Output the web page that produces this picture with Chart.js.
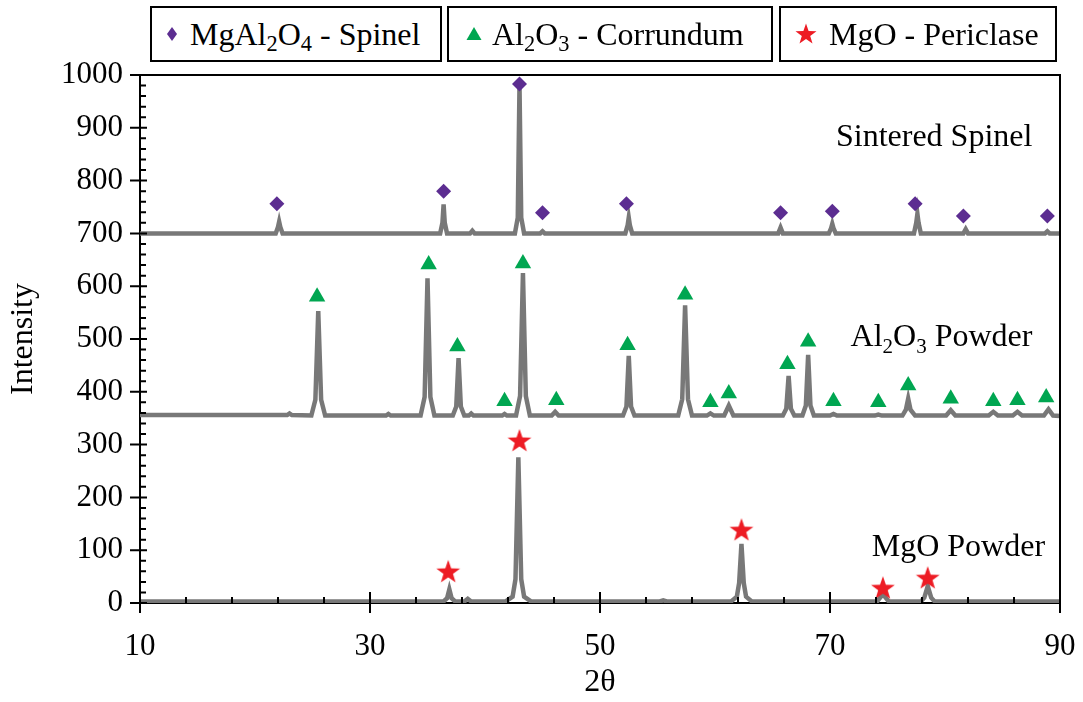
<!DOCTYPE html>
<html>
<head>
<meta charset="utf-8">
<script src="https://cdn.jsdelivr.net/npm/chart.js@4.4.1/dist/chart.umd.min.js"></script>
<style>
  body { margin: 0; background: #fff; }
  #wrap { position: relative; width: 1083px; height: 702px; }
  .key { position: absolute; top: 6px; height: 56px; border: 2px solid #000; box-sizing: border-box;
         display: flex; align-items: center; font-family: "Liberation Serif", serif; font-size: 32px;
         color: #000; white-space: nowrap; background: #fff; }
  .key sub { font-size: 0.7em; vertical-align: -0.25em; line-height: 0; }
</style>
</head>
<body>
<div id="wrap">
  <canvas id="xrdChart"></canvas>
  <div class="key" style="left:150px; width:292px; padding-left:14px;">
    <svg width="12" height="16" style="margin-right:12px"><polygon points="6,1 11,8 6,15 1,8" fill="#5C2D91"/></svg>
    <span>MgAl<sub>2</sub>O<sub>4</sub> - Spinel</span>
  </div>
  <div class="key" style="left:447px; width:326px; padding-left:17px;">
    <svg width="16" height="16" style="margin-right:10px"><polygon points="8,1 15.5,14 0.5,14" fill="#00A651"/></svg>
    <span>Al<sub>2</sub>O<sub>3</sub> - Corrundum</span>
  </div>
  <div class="key" style="left:779px; width:278px; padding-left:14px;">
    <svg width="22" height="22" style="margin-right:12px"><polygon points="11,0.5 13.6,8 21.5,8.2 15.2,13 17.5,20.6 11,16 4.5,20.6 6.8,13 0.5,8.2 8.4,8" fill="#ED1C24"/></svg>
    <span>MgO - Periclase</span>
  </div>
</div>
<script>
// XRD traces, [2theta, intensity]
const sinteredSpinel = [
    [10, 700],
    [21.8, 700], [22.0, 712], [22.1, 722], [22.2, 712], [22.4, 700],
    [36.1, 700], [36.3, 720], [36.4, 755], [36.5, 720], [36.7, 700],
    [38.7, 700], [38.9, 705], [39.1, 700],
    [42.6, 700], [42.85, 730], [43.0, 980], [43.15, 730], [43.4, 700],
    [44.8, 700], [45.0, 704], [45.2, 700],
    [52.2, 700], [52.4, 715], [52.5, 730], [52.6, 715], [52.8, 700],
    [65.5, 700], [65.7, 711], [65.9, 700],
    [69.9, 700], [70.1, 710], [70.2, 718], [70.3, 710], [70.5, 700],
    [77.3, 700], [77.5, 720], [77.6, 737], [77.7, 720], [77.9, 700],
    [81.6, 700], [81.8, 708], [82.0, 700],
    [88.7, 700], [88.9, 704], [89.1, 700],
    [90, 700]
];
const aluminaPowder = [
    [10, 356],
    [22.8, 356], [23.0, 359], [23.2, 356],
    [24.9, 355], [25.25, 385], [25.5, 553], [25.75, 385], [26.1, 355],
    [31.4, 355], [31.6, 358], [31.8, 355],
    [34.4, 355], [34.75, 390], [35.0, 615], [35.25, 390], [35.6, 355],
    [37.2, 355], [37.5, 372], [37.7, 464], [37.9, 372], [38.2, 355],
    [38.6, 355], [38.8, 359], [39.0, 355],
    [41.5, 355], [41.7, 358], [41.9, 355],
    [42.7, 355], [43.05, 392], [43.3, 625], [43.55, 392], [43.9, 355],
    [45.8, 355], [46.1, 362], [46.4, 355],
    [52.0, 355], [52.3, 372], [52.5, 468], [52.7, 372], [53.0, 355],
    [56.8, 355], [57.15, 386], [57.4, 564], [57.65, 386], [58.0, 355],
    [59.3, 355], [59.6, 359], [59.9, 355],
    [60.8, 355], [61.2, 374], [61.6, 355],
    [65.9, 355], [66.2, 368], [66.4, 430], [66.6, 368], [66.9, 355],
    [67.6, 355], [67.9, 374], [68.1, 470], [68.3, 374], [68.6, 355],
    [70.0, 355], [70.3, 358], [70.6, 355],
    [73.9, 355], [74.2, 357], [74.5, 355],
    [76.3, 355], [76.6, 366], [76.8, 387], [77.0, 366], [77.4, 355],
    [80.1, 355], [80.5, 365], [80.9, 355],
    [83.8, 355], [84.2, 362], [84.6, 355],
    [85.9, 355], [86.3, 362], [86.7, 355],
    [88.6, 355], [89.0, 367], [89.4, 355],
    [90, 354]
];
const magnesiaPowder = [
    [10, 3],
    [36.4, 3], [36.7, 9], [36.9, 26], [37.1, 9], [37.4, 3],
    [38.2, 3], [38.5, 8], [38.8, 3],
    [41.8, 3], [42.4, 12], [42.65, 45], [42.9, 276], [43.15, 45], [43.4, 12], [44.0, 3],
    [55.2, 3], [55.5, 5], [55.8, 3],
    [61.4, 3], [61.9, 12], [62.1, 38], [62.3, 112], [62.5, 38], [62.7, 12], [63.2, 3],
    [74.1, 3], [74.6, 17], [75.1, 3],
    [77.9, 3], [78.2, 10], [78.5, 32], [78.8, 10], [79.1, 3],
    [90, 3]
];

// phase markers
const spinelX = [21.9, 36.4, 43.0, 45.0, 52.3, 65.7, 70.2, 77.4, 81.6, 88.9];
const spinelY = [756, 780, 983, 739, 756, 739, 742, 756, 733, 733];
const corundumX = [25.4, 35.1, 37.6, 41.7, 43.3, 46.2, 52.4, 57.4, 59.6, 61.2, 66.3, 68.1, 70.3, 74.2, 76.8, 80.5, 84.2, 86.3, 88.8];
const corundumY = [580, 641, 486, 382, 643, 384, 488, 584, 380, 397, 452, 495, 382, 380, 412, 387, 382, 384, 389];
const periclaseX = [36.8, 43.0, 62.3, 74.6, 78.5];
const periclaseY = [59, 307, 138, 28, 47];

// trace names, placed in data units
const traceLabels = [
    { parts: [['Sintered Spinel', 0]], x: 87.6, y: 882 },
    { parts: [['Al', 0], ['2', 1], ['O', 0], ['3', 1], [' Powder', 0]], x: 87.6, y: 502 },
    { parts: [['MgO Powder', 0]], x: 88.7, y: 104 }
];

const lineGrey = '#787878';

function pts(pairs) { return pairs.map(p => ({ x: p[0], y: p[1] })); }
function zip(xs, ys) { return xs.map((x, i) => ({ x: x, y: ys[i] })); }

// filled 5-point star, chart.js only has an asterisk
const star = document.createElement('canvas');
star.width = 26; star.height = 26;
const sctx = star.getContext('2d');
sctx.fillStyle = '#ED1C24';
sctx.beginPath();
for (let i = 0; i < 10; i++) {
    const r = i % 2 ? 5 : 12.5;
    const a = -Math.PI / 2 + i * Math.PI / 5;
    sctx.lineTo(13 + r * Math.cos(a), 13.5 + r * Math.sin(a));
}
sctx.closePath();
sctx.fill();

const frameTicks = {
    id: 'frameTicks',
    afterDraw(chart) {
        const { ctx, chartArea: a, scales: { x, y } } = chart;
        ctx.save();
        ctx.strokeStyle = '#000';
        ctx.lineWidth = 2;
        ctx.beginPath();
        ctx.moveTo(a.left, a.top); ctx.lineTo(a.right, a.top); ctx.lineTo(a.right, a.bottom);
        for (let v = 10; v <= 90; v += 4) {
            const px = x.getPixelForValue(v);
            const major = (v - 10) % 20 === 0;
            ctx.moveTo(px, a.bottom - (major ? 11 : 6));
            ctx.lineTo(px, a.bottom + (major ? 10 : 0));
        }
        for (let v = 0; v <= 1000; v += 20) {
            const py = y.getPixelForValue(v);
            const major = v % 100 === 0;
            ctx.moveTo(a.left - (major ? 10 : 0), py);
            ctx.lineTo(a.left + (major ? 7 : 6), py);
        }
        ctx.stroke();

        // trace names with subscripts
        ctx.fillStyle = '#000';
        ctx.textBaseline = 'middle';
        traceLabels.forEach(lab => {
            let w = 0;
            lab.parts.forEach(p => {
                ctx.font = (p[1] ? 21 : 32) + 'px "Liberation Serif"';
                w += ctx.measureText(p[0]).width;
            });
            let cx = x.getPixelForValue(lab.x) - w;
            const cy = y.getPixelForValue(lab.y);
            lab.parts.forEach(p => {
                ctx.font = (p[1] ? 21 : 32) + 'px "Liberation Serif"';
                ctx.fillText(p[0], cx, p[1] ? cy + 10 : cy);
                cx += ctx.measureText(p[0]).width;
            });
        });
        ctx.restore();
    }
};

document.addEventListener('DOMContentLoaded', function() {
    Chart.defaults.font.family = '"Liberation Serif", "Times New Roman", serif';
    Chart.defaults.color = '#000';
    const ctx = document.getElementById('xrdChart').getContext('2d');
    new Chart(ctx, {
        type: 'scatter',
        data: {
            datasets: [
                { label: 'MgAl2O4 - Spinel', data: zip(spinelX, spinelY), pointStyle: 'rectRot',
                  pointRadius: 7.5, backgroundColor: '#5C2D91', borderWidth: 0 },
                { label: 'Al2O3 - Corrundum', data: zip(corundumX, corundumY), pointStyle: 'triangle',
                  pointRadius: 9.5, backgroundColor: '#00A651', borderWidth: 0 },
                { label: 'MgO - Periclase', data: zip(periclaseX, periclaseY), pointStyle: star,
                  pointRadius: 13, borderWidth: 0 },
                { label: 'Sintered Spinel', data: pts(sinteredSpinel), showLine: true, pointRadius: 0,
                  borderColor: lineGrey, borderWidth: 4.5, tension: 0 },
                { label: 'Al2O3 Powder', data: pts(aluminaPowder), showLine: true, pointRadius: 0,
                  borderColor: lineGrey, borderWidth: 4.5, tension: 0 },
                { label: 'MgO Powder', data: pts(magnesiaPowder), showLine: true, pointRadius: 0,
                  borderColor: lineGrey, borderWidth: 4.5, tension: 0 }
            ]
        },
        options: {
            responsive: true,
            maintainAspectRatio: false,
            animation: false,
            events: [],
            layout: { padding: { top: 75, right: 23, left: 0, bottom: 0 } },
            scales: {
                x: {
                    type: 'linear',
                    min: 10, max: 90,
                    afterFit: s => { s.height = 99; s.paddingLeft = 0; s.paddingRight = 0; },
                    grid: { display: false, drawTicks: false },
                    border: { display: true, color: '#000', width: 2 },
                    ticks: { stepSize: 20, padding: 25, font: { size: 31 }, callback: v => v },
                    title: { display: true, text: '2θ', font: { size: 32 }, padding: { bottom: 0 } }
                },
                y: {
                    min: 0, max: 1000,
                    afterFit: s => { s.width = 140; s.paddingTop = 0; s.paddingBottom = 0; },
                    grid: { display: false, drawTicks: false },
                    border: { display: true, color: '#000', width: 2 },
                    ticks: { stepSize: 100, padding: 17, font: { size: 31 }, callback: v => v },
                    title: { display: true, text: 'Intensity', font: { size: 32 }, padding: { top: 4 } }
                }
            },
            plugins: {
                legend: { display: false },
                tooltip: { enabled: false }
            }
        },
        plugins: [frameTicks]
    });
});
</script>
</body>
</html>
